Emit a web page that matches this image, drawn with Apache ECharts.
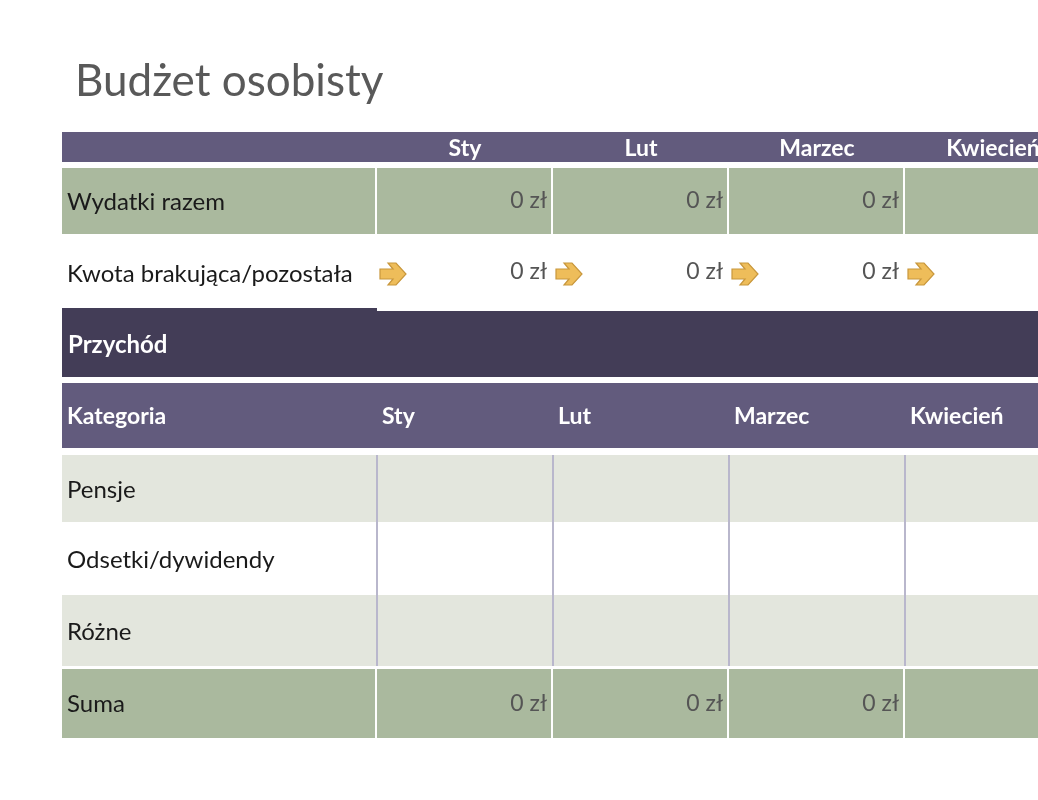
<!DOCTYPE html>
<html><head><meta charset="utf-8">
<script src="https://cdn.jsdelivr.net/npm/echarts@6/dist/echarts.min.js"></script>
<style>html,body{margin:0;padding:0;background:#fff}#c{width:1038px;height:800px}</style>
</head><body><div id="c"></div>
<script>
var title = 'Budżet osobisty';
var months = ['Sty', 'Lut', 'Marzec', 'Kwiecień'];
var expensesTotal = [0, 0, 0, 0];
var remaining = [0, 0, 0, 0];
var incomeHeader = 'Przychód';
var categoryHeader = 'Kategoria';
var incomeCategories = ['Pensje', 'Odsetki/dywidendy', 'Różne'];
var incomeSum = [0, 0, 0, 0];

// uklad wierszy (px od gory)
var ROWS = {
  head1: [132, 162], exp: [168, 234], rem: [234, 310], band: [311, 377],
  head2: [383, 448], inc: [[455, 522], [522, 595], [595, 666]], sum: [669, 738]
};
var LABELW = 315 / 176;
var FONT = 'Lato, "Open Sans", sans-serif';
var PURPLE = '#625b7d', DARK = '#433d57', GREEN = '#aab99e', LIGHT = '#e3e6dd';

function zl(v) { return v + ' zł'; }

var chart = echarts.init(document.getElementById('c'));

function cellX(api, c) {
  var x0 = api.coord([c < 0 ? -LABELW : c, 0])[0];
  var x1 = api.coord([c < 0 ? 0 : c + 1, 0])[0];
  return [x0, x1];
}
function rowY(api, r) {
  return [api.coord([0, r[0]])[1], api.coord([0, r[1]])[1]];
}
function txt(x, y, s, o) {
  return { type: 'text', style: Object.assign({ x: x, y: y, text: s, font: '24px ' + FONT, fill: '#1a1a1a', verticalAlign: 'middle' }, o || {}) };
}
var VAL = { fill: '#555', align: 'right', font: '23px ' + FONT };
var HEAD = { fill: '#fff', font: 'bold 23px ' + FONT };

// dane komorek: [kolumna, tekst, wiersz]
function rowData(label, vals) {
  var d = [[-1, label]];
  vals.forEach(function (v, i) { d.push([i, v]); });
  return d;
}

function renderRow(kind) {
  return function (params, api) {
    var c = api.value(0);
    var raw = series[params.seriesIndex].data[params.dataIndex];
    var text = raw[1];
    var xs = cellX(api, c);
    var ch = [];
    var ys, ym;
    if (kind === 'head1') {
      ys = rowY(api, ROWS.head1); ym = (ys[0] + ys[1]) / 2;
      ch.push({ type: 'rect', shape: { x: xs[0], y: ys[0], width: xs[1] - xs[0] + 1, height: ys[1] - ys[0] }, style: { fill: PURPLE } });
      if (c >= 0) ch.push(txt((xs[0] + xs[1]) / 2, ym + 2, text, Object.assign({ align: 'center' }, HEAD)));
    } else if (kind === 'exp' || kind === 'sum') {
      ys = rowY(api, ROWS[kind]); ym = (ys[0] + ys[1]) / 2;
      ch.push({ type: 'rect', shape: { x: xs[0], y: ys[0], width: xs[1] - xs[0] - 2, height: ys[1] - ys[0] }, style: { fill: GREEN } });
      if (c < 0) ch.push(txt(xs[0] + 5, ym + 1, text));
      else ch.push(txt(xs[1] - 6, ym, zl(text), VAL));
    } else if (kind === 'rem') {
      ys = rowY(api, ROWS.rem); ym = (ys[0] + ys[1]) / 2;
      if (c < 0) {
        ch.push(txt(xs[0] + 5, ym + 2, text));
        ch.push({ type: 'rect', shape: { x: xs[0], y: ys[1] - 2, width: xs[1] - xs[0], height: 3 }, style: { fill: DARK } });
      } else {
        var ax = xs[0] + 3, ay = ym + 2;
        ch.push({ type: 'polygon', shape: { points: [[ax, ay - 5], [ax + 13, ay - 5], [ax + 8, ay - 11], [ax + 16, ay - 11], [ax + 26, ay], [ax + 16, ay + 11], [ax + 8, ay + 11], [ax + 13, ay + 5], [ax, ay + 5]] },
          style: { fill: '#eebd5a', stroke: '#c8973c', lineWidth: 1.2 } });
        ch.push(txt(xs[1] - 6, ym, zl(text), VAL));
      }
    } else if (kind === 'band') {
      ys = rowY(api, ROWS.band); ym = (ys[0] + ys[1]) / 2;
      ch.push({ type: 'rect', shape: { x: xs[0], y: ys[0], width: xs[1] - xs[0] + 1, height: ys[1] - ys[0] }, style: { fill: DARK } });
      if (c < 0) ch.push(txt(xs[0] + 6, ym + 1, text, { fill: '#fff', font: 'bold 24px ' + FONT }));
    } else if (kind === 'head2') {
      ys = rowY(api, ROWS.head2); ym = (ys[0] + ys[1]) / 2;
      ch.push({ type: 'rect', shape: { x: xs[0], y: ys[0], width: xs[1] - xs[0] + 1, height: ys[1] - ys[0] }, style: { fill: PURPLE } });
      ch.push(txt(xs[0] + 5, ym + 1, text, HEAD));
    } else if (kind === 'inc') {
      var r = raw[2];
      ys = rowY(api, ROWS.inc[r]); ym = (ys[0] + ys[1]) / 2;
      ch.push({ type: 'rect', shape: { x: xs[0], y: ys[0], width: xs[1] - xs[0] + 1, height: ys[1] - ys[0] }, style: { fill: r % 2 === 0 ? LIGHT : '#fff' } });
      if (c < 0) ch.push(txt(xs[0] + 5, ym + 2, text));
      else ch.push({ type: 'rect', shape: { x: xs[0] - 1, y: ys[0], width: 2, height: ys[1] - ys[0] }, style: { fill: '#b9b7cc' } });
    }
    return { type: 'group', children: ch };
  };
}

var incData = [];
incomeCategories.forEach(function (name, r) {
  incData.push([-1, name, r]);
  months.forEach(function (m, i) { incData.push([i, '', r]); });
});

var series = [
  { kind: 'head1', data: rowData('', months) },
  { kind: 'exp', data: rowData('Wydatki razem', expensesTotal) },
  { kind: 'rem', data: rowData('Kwota brakująca/pozostała', remaining) },
  { kind: 'band', data: rowData(incomeHeader, ['', '', '', '']) },
  { kind: 'head2', data: rowData(categoryHeader, months) },
  { kind: 'inc', data: incData },
  { kind: 'sum', data: rowData('Suma', incomeSum) }
];

chart.setOption({
  animation: false,
  title: { text: title, left: 70, top: 55, textStyle: { fontFamily: FONT, fontWeight: 'normal', fontSize: 44, color: '#595959' } },
  grid: { left: 62, right: 0, top: 0, bottom: 0 },
  xAxis: { type: 'value', min: -LABELW, max: (1038 - 62 - 315) / 176, show: false },
  yAxis: { type: 'value', min: 0, max: 800, inverse: true, show: false },
  series: series.map(function (s) {
    return { type: 'custom', renderItem: renderRow(s.kind), data: s.data.map(function (d) { return [d[0], 0]; }), clip: true };
  })
});
</script>
</body></html>
